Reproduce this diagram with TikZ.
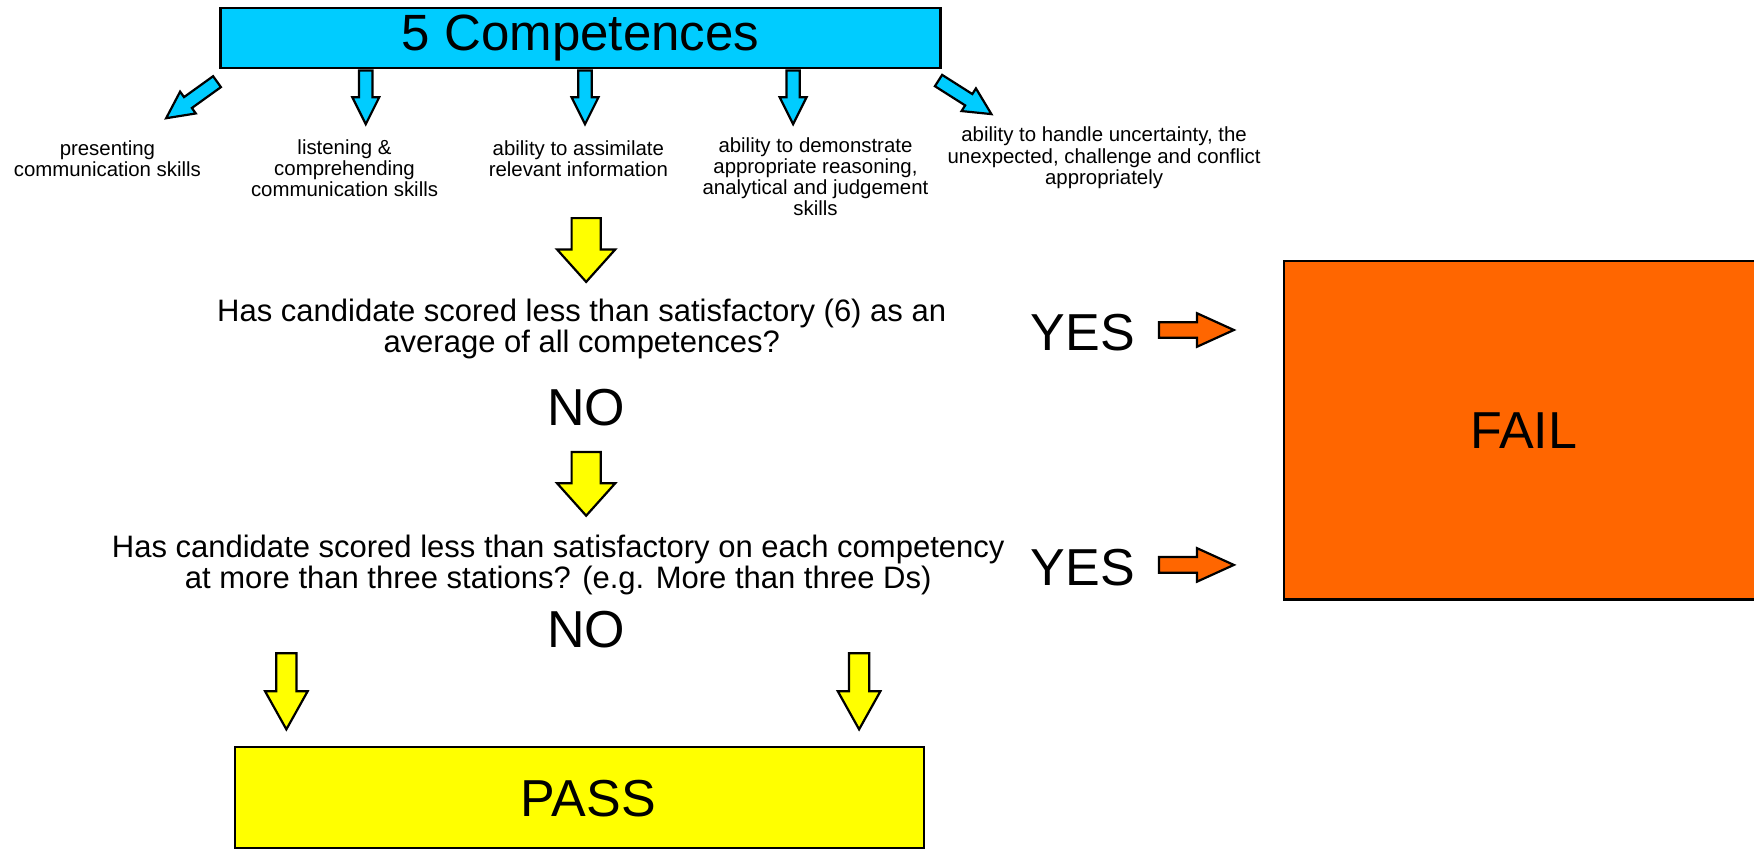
\documentclass[tikz,border=0pt]{standalone}
\usepackage{fontspec}
\setmainfont{Liberation Sans}
\definecolor{cyanc}{HTML}{00CCFF}
\definecolor{yellowc}{HTML}{FFFF00}
\definecolor{orangec}{HTML}{FF6600}
\tikzset{
  pics/blockarrow/.style n args={4}{code={
    \path[pic actions] (0,-#2) -- ({#1-#4},-#2) -- ({#1-#4},-#3) -- (#1,0) -- ({#1-#4},#3) -- ({#1-#4},#2) -- (0,#2) -- cycle;
  }},
  barrow/.style={draw=black, line width=1.1pt, line join=miter},
  small/.style={font=\fontsize{10.2pt}{9.4pt}\selectfont, align=center, inner sep=0pt},
  question/.style={font=\fontsize{15.5pt}{14.2pt}\selectfont, align=center, inner sep=0pt},
  big/.style={font=\fontsize{26pt}{28pt}\selectfont, inner sep=0pt},
  boxline/.style={draw=black, line width=1.1pt},
}
\begin{document}
\begin{tikzpicture}[x=0.5593pt,y=-0.5593pt]
\useasboundingbox (0,0) rectangle (1568,760);
\clip (0,0) rectangle (1568,760);

% top box
\node[boxline, fill=cyanc, minimum width=360pt, minimum height=30pt, inner sep=0pt,
      font=\fontsize{25.5pt}{28pt}\selectfont] (comp) at (519,34) {5 Competences};

% blue arrows
\pic[barrow, fill=cyanc, rotate=215.7] at (194,73) {blockarrow={56}{6}{12}{24}};
\pic[barrow, fill=cyanc, rotate=-90] at (327,63) {blockarrow={48}{6}{12}{24}};
\pic[barrow, fill=cyanc, rotate=-90] at (523,63) {blockarrow={48}{6}{12}{24}};
\pic[barrow, fill=cyanc, rotate=-90] at (709,63) {blockarrow={48}{6}{12}{24}};
\pic[barrow, fill=cyanc, rotate=-32.4] at (839,72) {blockarrow={56}{6}{12}{24}};

% competence labels
\node[small] (c1) at (96,142) {presenting\\communication skills};
\node[small] (c2) at (308,150) {listening \&\\comprehending\\communication skills};
\node[small] (c3) at (517,142) {ability to assimilate\\relevant information};
\node[small] (c4) at (729,158) {ability to demonstrate\\appropriate reasoning,\\analytical and judgement\\skills};
\node[small] (c5) at (987,141) {ability to handle uncertainty, the\\unexpected, challenge and conflict\\appropriately};

% yellow arrow 1
\pic[barrow, fill=yellowc, rotate=-90] at (524,195) {blockarrow={57}{13}{26}{29}};

% question 1
\node[question] (q1) at (520,294) {Has candidate scored less than satisfactory (6) as an\\average of all competences?};
\node[big] (yes1) at (968,297) {YES};
\pic[barrow, fill=orangec] at (1036,295) {blockarrow={67}{7}{15}{33}};

\node[big] (no1) at (524,364) {NO};

% yellow arrow 2
\pic[barrow, fill=yellowc, rotate=-90] at (524,404) {blockarrow={57}{13}{26}{29}};

% question 2
\node[question] (q2) at (499,505) {Has candidate scored less than satisfactory on each competency\\at more than three stations? (e.g. More than three Ds)};
\node[big] (yes2) at (968,507) {YES};
\pic[barrow, fill=orangec] at (1036,505) {blockarrow={67}{7}{15}{33}};

\node[big] (no2) at (524,563) {NO};

% yellow arrows to pass
\pic[barrow, fill=yellowc, rotate=-90] at (256,584) {blockarrow={68}{9}{19}{34}};
\pic[barrow, fill=yellowc, rotate=-90] at (768,584) {blockarrow={68}{9}{19}{34}};

% PASS box
\node[boxline, fill=yellowc, minimum width=344.5pt, minimum height=50.3pt, inner sep=0pt] (passbox) at (518,713) {};
\node[big] (pass) at (526,714) {PASS};

% FAIL box
\draw[boxline, fill=orangec] (1148,233) rectangle (1580,536);
\node[big] (fail) at (1362,385) {FAIL};
\end{tikzpicture}
\end{document}
